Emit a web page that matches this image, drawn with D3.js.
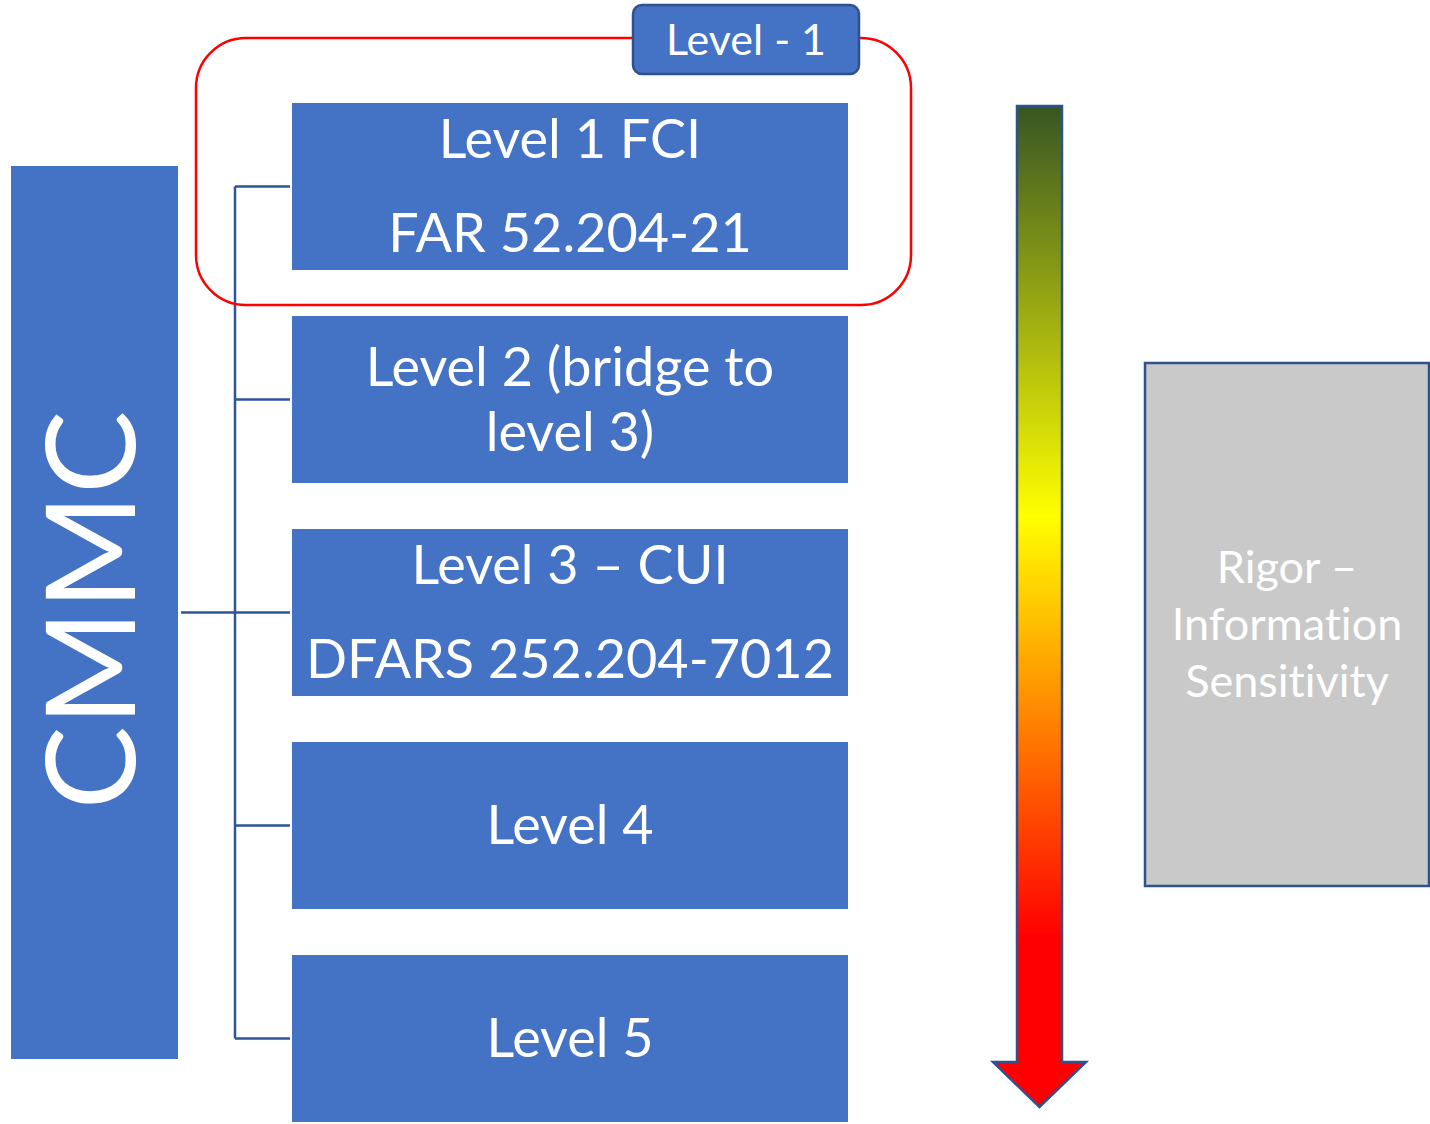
<!DOCTYPE html>
<html>
<head>
<meta charset="utf-8">
<script src="https://cdn.jsdelivr.net/npm/d3@7"></script>
<style>
  html, body { margin: 0; padding: 0; background: #ffffff; }
  svg { display: block; }
  text { font-family: Lato, "Open Sans", "DejaVu Sans", sans-serif; fill: #ffffff; font-variant-ligatures: none; }
</style>
</head>
<body>
<svg id="chart" width="1430" height="1124"></svg>
<script>
// ---- content ----
const rootLabel = "CMMC";
const levelIds = [1, 2, 3, 4, 5];
// "" marks a paragraph gap inside a box
const levelLabels = [
  ["Level 1 FCI", "", "FAR 52.204-21"],
  ["Level 2 (bridge to", "level 3)"],
  ["Level 3 \u2013 CUI", "", "DFARS 252.204-7012"],
  ["Level 4"],
  ["Level 5"]
];
const highlightTag = "Level - 1";
const highlightedLevels = [1];
const scaleLabel = ["Rigor \u2013", "Information", "Sensitivity"];
// colour ramp along the rigor arrow: position (0 = top, 1 = bottom) and colour
const rampStops = [0, 0.41, 0.83, 1];
const rampColors = ["#375623", "#FFFF00", "#FF0000", "#FF0000"];

// ---- layout ----
const BLUE = "#4472C4", EDGE = "#2F528F", LINK = "#2F5597";
const svg = d3.select("#chart");

const boxX0 = 292, boxX1 = 848;
const rowY = d3.scaleBand().domain(levelIds).range([103, 1122]).paddingInner(0.216).paddingOuter(0);
const cx = (boxX0 + boxX1) / 2;

// root box
const root = { x0: 11, x1: 178, y0: 166, y1: 1059 };
svg.append("rect")
  .attr("x", root.x0).attr("y", root.y0)
  .attr("width", root.x1 - root.x0).attr("height", root.y1 - root.y0)
  .attr("fill", BLUE);
svg.append("text")
  .attr("transform", `translate(135,610) rotate(-90)`)
  .attr("text-anchor", "middle")
  .style("font-size", "125px")
  .text(rootLabel);

// tree connectors
const trunkX = 235;
const centers = levelIds.map(id => rowY(id) + rowY.bandwidth() / 2);
const links = svg.append("g").attr("stroke", LINK).attr("stroke-width", 2.5).attr("fill", "none");
links.append("line")
  .attr("x1", trunkX).attr("x2", trunkX)
  .attr("y1", d3.min(centers)).attr("y2", d3.max(centers));
links.append("line")
  .attr("x1", root.x1 + 3).attr("x2", trunkX)
  .attr("y1", centers[2]).attr("y2", centers[2]);
links.selectAll("line.branch").data(levelIds).join("line")
  .attr("class", "branch")
  .attr("x1", trunkX).attr("x2", boxX0 - 2)
  .attr("y1", d => rowY(d) + rowY.bandwidth() / 2)
  .attr("y2", d => rowY(d) + rowY.bandwidth() / 2);

// level boxes
const fs = 54, lineH = 65, gapH = 29;
const rows = svg.selectAll("g.level").data(levelIds).join("g").attr("class", "level");
rows.append("rect")
  .attr("x", boxX0).attr("y", d => rowY(d))
  .attr("width", boxX1 - boxX0).attr("height", rowY.bandwidth())
  .attr("fill", BLUE);
rows.each(function (d, i) {
  const lines = levelLabels[i];
  const heights = lines.map(l => (l === "" ? gapH : lineH));
  const total = d3.sum(heights);
  let y = rowY(d) + rowY.bandwidth() / 2 - total / 2;
  const g = d3.select(this);
  lines.forEach((l, k) => {
    const mid = y + heights[k] / 2;
    if (l !== "") {
      g.append("text")
        .attr("x", cx).attr("y", mid + fs * 0.35)
        .attr("text-anchor", "middle")
        .style("font-size", fs + "px")
        .text(l);
    }
    y += heights[k];
  });
});

// highlight frame around level 1
const hi = highlightedLevels.map(id => rowY(id));
svg.append("rect")
  .attr("x", 196).attr("y", 38)
  .attr("width", 911 - 196).attr("height", d3.max(hi) + rowY.bandwidth() + 35 - 38)
  .attr("rx", 50).attr("ry", 50)
  .attr("fill", "none").attr("stroke", "#FF0000").attr("stroke-width", 2.5);

// tag on the frame
svg.append("rect")
  .attr("x", 633).attr("y", 5).attr("width", 226).attr("height", 69)
  .attr("rx", 9).attr("ry", 9)
  .attr("fill", BLUE).attr("stroke", EDGE).attr("stroke-width", 2.5);
svg.append("text")
  .attr("x", 746).attr("y", 55)
  .attr("text-anchor", "middle")
  .style("font-size", "43px")
  .text(highlightTag);

// rigor arrow with colour ramp
const arrowY = d3.scaleLinear().domain([0, 1]).range([106, 1107]);
const defs = svg.append("defs");
const grad = defs.append("linearGradient")
  .attr("id", "ramp").attr("gradientUnits", "userSpaceOnUse")
  .attr("x1", 0).attr("x2", 0).attr("y1", arrowY(0)).attr("y2", arrowY(1));
grad.selectAll("stop").data(rampStops).join("stop")
  .attr("offset", d => d)
  .attr("stop-color", (d, i) => rampColors[i]);

const shaftL = 1017, shaftR = 1062, headL = 993, headR = 1086, headY = 1062;
const tipX = (shaftL + shaftR) / 2;
const arrowPath = d3.path();
arrowPath.moveTo(shaftL, arrowY(0));
arrowPath.lineTo(shaftR, arrowY(0));
arrowPath.lineTo(shaftR, headY);
arrowPath.lineTo(headR, headY);
arrowPath.lineTo(tipX, arrowY(1));
arrowPath.lineTo(headL, headY);
arrowPath.lineTo(shaftL, headY);
arrowPath.closePath();
svg.append("path")
  .attr("d", arrowPath.toString())
  .attr("fill", "url(#ramp)")
  .attr("stroke", EDGE).attr("stroke-width", 2.5)
  .attr("stroke-linejoin", "miter");

// rigor legend box
const gb = { x0: 1145, x1: 1429, y0: 363, y1: 886 };
svg.append("rect")
  .attr("x", gb.x0).attr("y", gb.y0)
  .attr("width", gb.x1 - gb.x0).attr("height", gb.y1 - gb.y0)
  .attr("fill", "#C9C9C9").attr("stroke", EDGE).attr("stroke-width", 2.5);
const gfs = 45, gLine = 57;
svg.append("g").selectAll("text").data(scaleLabel).join("text")
  .attr("x", (gb.x0 + gb.x1) / 2)
  .attr("y", (d, i) => (gb.y0 + gb.y1) / 2 + (i - 1) * gLine + gfs * 0.35)
  .attr("text-anchor", "middle")
  .style("font-size", gfs + "px")
  .text(d => d);
</script>
</body>
</html>
